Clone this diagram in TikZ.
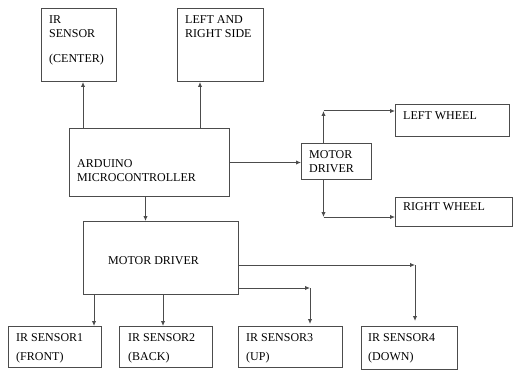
\documentclass[tikz,border=0pt]{standalone}
\usepackage{fontspec}
\setmainfont{Liberation Serif}
\usetikzlibrary{positioning,arrows.meta}

\begin{document}
\begin{tikzpicture}[
    x=1pt, y=-1pt,
    blk/.style={draw=black!70, line width=1pt, rectangle, anchor=north west, inner sep=0pt},
    txt/.style={align=left, inner sep=0pt, text=black, font=\fontsize{12}{14.5}\selectfont},
    link/.style={draw=black!70, line width=1pt},
    >={Latex[length=5pt,width=4.5pt]}
  ]
  \useasboundingbox (0,0) rectangle (513,371);

  % top row
  \node[blk, minimum width=75pt, minimum height=73pt] (irc) at (41,8) {};
  \node[txt, below right=7pt and 8pt of irc.north west] (irctxt) {IR\\SENSOR\\[10pt](CENTER)};
  \node[blk, minimum width=86pt, minimum height=73pt] (lr) at (177,8) {};
  \node[txt, below right=7pt and 8pt of lr.north west] (lrtxt) {LEFT AND\\RIGHT SIDE};

  % controller and side driver
  \node[blk, minimum width=160pt, minimum height=68pt] (ardu) at (69,128) {};
  \node[txt, below right=31pt and 8pt of ardu.north west] (ardutxt) {ARDUINO\\MICROCONTROLLER};
  \node[blk, minimum width=70pt, minimum height=36pt] (smd) at (301,143) {};
  \node[txt, below right=7pt and 8pt of smd.north west] (smdtxt) {MOTOR\\DRIVER};
  \node[blk, minimum width=114pt, minimum height=32pt] (lw) at (395,104) {};
  \node[txt, below right=7pt and 8pt of lw.north west] (lwtxt) {LEFT WHEEL};
  \node[blk, minimum width=117pt, minimum height=29pt] (rw) at (395,197) {};
  \node[txt, below right=5pt and 8pt of rw.north west] (rwtxt) {RIGHT WHEEL};

  % main driver
  \node[blk, minimum width=155pt, minimum height=73pt] (md) at (83,221) {};
  \node[txt, below right=35pt and 25pt of md.north west] (mdtxt) {MOTOR DRIVER};

  % sensors
  \node[blk, minimum width=93pt, minimum height=41pt] (s1) at (8,326) {};
  \node[txt, below right=7pt and 8pt of s1.north west] (s1txt) {IR SENSOR1\\[5pt](FRONT)};
  \node[blk, minimum width=93pt, minimum height=41pt] (s2) at (119,326) {};
  \node[txt, below right=7pt and 9pt of s2.north west] (s2txt) {IR SENSOR2\\[5pt](BACK)};
  \node[blk, minimum width=104pt, minimum height=41pt] (s3) at (238,326) {};
  \node[txt, below right=7pt and 8pt of s3.north west] (s3txt) {IR SENSOR3\\[5pt](UP)};
  \node[blk, minimum width=96pt, minimum height=43pt] (s4) at (361,326) {};
  \node[txt, below right=7pt and 7pt of s4.north west] (s4txt) {IR SENSOR4\\[5pt](DOWN)};

  % arrows up from the controller
  \coordinate (irin) at ([xshift=4pt]irc.south);
  \draw[link,->] (irin |- ardu.north) -- (irin);
  \coordinate (lrin) at ([xshift=23pt]lr.south west);
  \draw[link,->] (lrin |- ardu.north) -- (lrin);
  \coordinate (mdin) at ([xshift=-4pt]ardu.south);
  \draw[link,->] (mdin) -- (mdin |- md.north);
  \draw[link,->] (ardu.east) -- (smd.west |- ardu.east);

  % wheels
  \coordinate (lwin) at ([yshift=-7pt]lw.north west);
  \coordinate (smdup) at ([xshift=-13pt]smd.north);
  \draw[link,->] (smdup) -- (smdup |- lwin);
  \draw[link,->] (smdup |- lwin) -- (lwin);
  \coordinate (rwin) at ([yshift=-20pt]rw.north west);
  \coordinate (smddn) at ([xshift=-13pt]smd.south);
  \draw[link,->] (smddn) -- (smddn |- rwin);
  \draw[link,->] (smddn |- rwin) -- (rwin);

  % sensor links
  \coordinate (s1in) at ([xshift=11pt]md.south west);
  \draw[link,->] (s1in) -- (s1in |- s1.north);
  \coordinate (s2in) at ([xshift=80pt]md.south west);
  \draw[link,->] (s2in) -- (s2in |- s2.north);
  \coordinate (k3) at (310,288);
  \draw[link,->] (md.east |- k3) -- (k3);
  \draw[link,->, shorten >=2pt] (k3) -- (k3 |- s3.north);
  \coordinate (k4) at (415,265);
  \draw[link,->] (md.east |- k4) -- (k4);
  \draw[link,->, shorten >=5pt] (k4) -- (k4 |- s4.north);
\end{tikzpicture}
\end{document}
